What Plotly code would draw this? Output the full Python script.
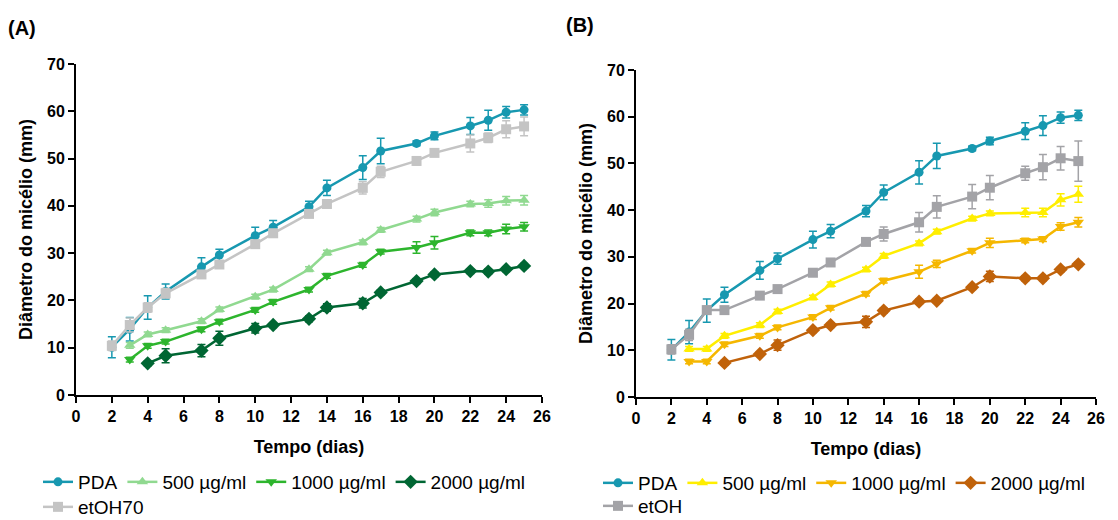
import plotly.graph_objects as go

W, H = 1118, 520
FONT = "Liberation Sans, Arial, sans-serif"

# ---------------- data ----------------
days_all = [2, 3, 4, 5, 7, 8, 10, 11, 13, 14, 16, 17, 19, 20, 22, 23, 24, 25]
days_3 = [3, 4, 5, 7, 8, 10, 11, 13, 14, 16, 17, 19, 20, 22, 23, 24, 25]
days_4 = [4, 5, 7, 8, 10, 11, 13, 14, 16, 17, 19, 20, 22, 23, 24, 25]
days_5 = [5, 7, 8, 10, 11, 13, 14, 16, 17, 19, 20, 22, 23, 24, 25]

pda = [10.1, 13.9, 18.5, 21.9, 27.1, 29.6, 33.7, 35.5, 39.8, 43.8, 48.1, 51.6, 53.2, 54.8, 56.9, 58.1, 59.8, 60.3]
pda_err = [2.2, 2.5, 2.5, 1.6, 1.9, 1.2, 1.8, 1.4, 1.2, 1.6, 2.5, 2.7, 0.5, 0.8, 1.8, 2.1, 1.2, 1.1]

# Panel A
etoh70 = [10.4, 14.8, 18.5, 21.5, 25.5, 27.6, 31.9, 34.2, 38.3, 40.4, 43.8, 47.2, 49.5, 51.2, 53.2, 54.4, 56.2, 56.8]
etoh70_err = [1.0, 1.5, 1.0, 1.0, 0.8, 0.8, 0.8, 0.8, 0.5, 0.6, 1.3, 1.2, 0.8, 0.6, 1.8, 1.0, 1.8, 2.0]
a500 = [10.5, 12.8, 13.7, 15.6, 18.1, 20.8, 22.3, 26.6, 30.1, 32.3, 34.9, 37.2, 38.6, 40.4, 40.5, 41.1, 41.2]
a500_err = [0.6, 0.5, 0.5, 0.5, 0.5, 0.5, 0.5, 0.5, 0.5, 0.5, 0.5, 0.6, 0.7, 0.6, 0.8, 0.9, 1.0]
a1000 = [7.5, 10.4, 11.3, 13.9, 15.5, 18.0, 19.7, 22.3, 25.2, 27.5, 30.3, 31.2, 32.2, 34.3, 34.3, 35.1, 35.6]
a1000_err = [0.5, 0.5, 0.5, 0.5, 0.5, 0.5, 0.5, 0.5, 0.5, 0.5, 0.5, 1.2, 1.3, 0.6, 0.6, 1.0, 0.9]
a2000 = [6.7, 8.3, 9.4, 12.0, 14.1, 14.8, 16.1, 18.5, 19.4, 21.7, 24.1, 25.5, 26.2, 26.1, 26.6, 27.3]
a2000_err = [0.5, 1.5, 1.3, 1.5, 1.0, 0.5, 0.6, 0.8, 1.0, 0.5, 0.5, 0.5, 0.5, 0.5, 0.5, 0.5]

# Panel B
etoh = [10.2, 13.3, 18.6, 18.6, 21.7, 23.1, 26.6, 28.8, 33.2, 34.9, 37.4, 40.7, 42.9, 44.8, 47.9, 49.2, 51.1, 50.5]
etoh_err = [1.0, 1.2, 0.8, 0.6, 0.6, 0.6, 0.6, 0.6, 0.6, 1.5, 2.1, 2.4, 2.6, 2.6, 1.5, 2.7, 2.5, 4.3]
b500 = [10.3, 10.3, 13.1, 15.4, 18.3, 21.3, 24.1, 27.3, 30.2, 32.9, 35.4, 38.2, 39.3, 39.5, 39.5, 42.2, 43.4]
b500_err = [0.5, 0.5, 0.5, 0.5, 0.5, 0.5, 0.5, 0.5, 0.5, 0.5, 0.5, 0.5, 0.5, 0.9, 0.9, 1.3, 1.7]
b1000 = [7.6, 7.6, 11.3, 13.1, 14.9, 17.1, 19.1, 22.1, 24.9, 26.8, 28.5, 31.3, 33.0, 33.5, 33.8, 36.5, 37.4]
b1000_err = [0.5, 0.5, 0.5, 0.5, 0.5, 0.5, 0.5, 0.5, 0.5, 1.4, 0.8, 0.5, 1.0, 0.5, 0.5, 0.8, 1.0]
b2000 = [7.3, 9.2, 11.1, 14.3, 15.4, 16.1, 18.5, 20.4, 20.6, 23.5, 25.8, 25.4, 25.4, 27.3, 28.4]
b2000_err = [0.5, 0.5, 1.1, 0.5, 0.5, 1.2, 0.5, 0.5, 0.5, 0.5, 1.1, 0.5, 0.5, 0.5, 0.5]

x_ticks = list(range(0, 27, 2))
y_ticks = list(range(0, 71, 10))

# ---------------- styles ----------------
C_PDA = "#1798b0"


def series(x, y, err, name, color, symbol, size, xa, ya, legend):
    return go.Scatter(
        x=x, y=y, name=name, mode="lines+markers",
        line=dict(color=color, width=2.5),
        marker=dict(color=color, symbol=symbol, size=size),
        error_y=dict(type="data", array=err, visible=True, color=color,
                     thickness=1.5, width=4),
        xaxis=xa, yaxis=ya, legend=legend,
    )


fig = go.Figure()
# Panel A
fig.add_trace(series(days_all, pda, pda_err, "PDA", C_PDA, "circle", 9, "x", "y", "legend"))
fig.add_trace(series(days_3, a500, a500_err, "500 µg/ml", "#90d990", "triangle-up", 10, "x", "y", "legend"))
fig.add_trace(series(days_3, a1000, a1000_err, "1000 µg/ml", "#2db52d", "triangle-down", 10, "x", "y", "legend"))
fig.add_trace(series(days_4, a2000, a2000_err, "2000 µg/ml", "#006633", "diamond", 11, "x", "y", "legend"))
fig.add_trace(series(days_all, etoh70, etoh70_err, "etOH70", "#c4c4c4", "square", 10, "x", "y", "legend2"))
# Panel B
fig.add_trace(series(days_all, pda, pda_err, "PDA", C_PDA, "circle", 9, "x2", "y2", "legend3"))
fig.add_trace(series(days_3, b500, b500_err, "500 µg/ml", "#ffee00", "triangle-up", 10, "x2", "y2", "legend3"))
fig.add_trace(series(days_3, b1000, b1000_err, "1000 µg/ml", "#f5b700", "triangle-down", 10, "x2", "y2", "legend3"))
fig.add_trace(series(days_5, b2000, b2000_err, "2000 µg/ml", "#c0620a", "diamond", 11, "x2", "y2", "legend3"))
fig.add_trace(series(days_all, etoh, etoh_err, "etOH", "#a3a3a7", "square", 10, "x2", "y2", "legend4"))

xaxis_style = dict(
    range=[0, 26], tickvals=x_ticks, showline=True, linecolor="black", linewidth=2,
    ticks="outside", ticklen=6, tickwidth=2, tickcolor="black",
    showgrid=False, zeroline=False, automargin=False,
    tickfont=dict(family=FONT, size=16, color="black", weight="bold"),
    title=dict(text="Tempo (dias)", font=dict(family=FONT, size=18, color="black", weight="bold"), standoff=16),
)
yaxis_style = dict(
    range=[0, 70], tickvals=y_ticks, showline=True, linecolor="black", linewidth=2,
    ticks="outside", ticklen=6, tickwidth=2, tickcolor="black",
    showgrid=False, zeroline=False, automargin=False,
    tickfont=dict(family=FONT, size=16, color="black", weight="bold"),
    title=dict(text="Diâmetro do micélio (mm)", font=dict(family=FONT, size=18, color="black", weight="bold"), standoff=10),
)

legend_style = dict(orientation="h", font=dict(family=FONT, size=19, color="black"),
                    bgcolor="rgba(0,0,0,0)", borderwidth=0, xanchor="left", yanchor="middle",
                    xref="container", yref="container",
                    itemclick=False, itemdoubleclick=False)

fig.update_layout(
    width=W, height=H, margin=dict(l=0, r=0, t=0, b=0, autoexpand=False),
    paper_bgcolor="white", plot_bgcolor="white",
    font=dict(family=FONT, color="black"),
    xaxis=dict(domain=[76 / W, 542 / W], anchor="y", **xaxis_style),
    yaxis=dict(domain=[1 - 395 / H, 1 - 64 / H], anchor="x", **yaxis_style),
    xaxis2=dict(domain=[636 / W, 1096 / W], anchor="y2", **xaxis_style),
    yaxis2=dict(domain=[1 - 397 / H, 1 - 70 / H], anchor="x2", **yaxis_style),
    legend=dict(x=38 / W, y=1 - 482 / H, **legend_style),
    legend2=dict(x=38 / W, y=1 - 507 / H, **legend_style),
    legend3=dict(x=598 / W, y=1 - 483 / H, **legend_style),
    legend4=dict(x=598 / W, y=1 - 506 / H, **legend_style),
    showlegend=True,
    annotations=[
        dict(text="(A)", x=6 / W, y=1 - 28 / H, xref="paper", yref="paper", xanchor="left",
             yanchor="middle", showarrow=False, font=dict(family=FONT, size=20, color="black", weight="bold")),
        dict(text="(B)", x=564 / W, y=1 - 25 / H, xref="paper", yref="paper", xanchor="left",
             yanchor="middle", showarrow=False, font=dict(family=FONT, size=20, color="black", weight="bold")),
    ],
)

fig.write_html("out.html")
